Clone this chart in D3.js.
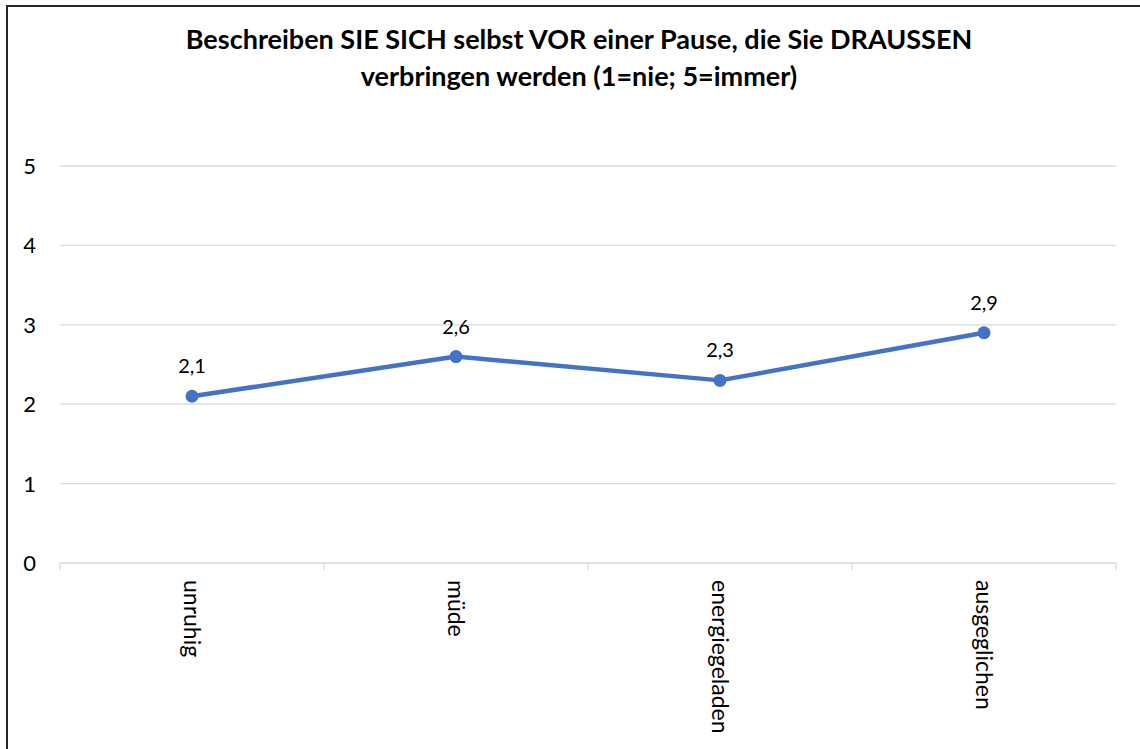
<!DOCTYPE html>
<html>
<head>
<meta charset="utf-8">
<script src="https://cdn.jsdelivr.net/npm/d3@7"></script>
<style>
  html, body { margin: 0; padding: 0; background: #fff; }
  svg { display: block; font-family: Lato, "Open Sans", sans-serif; }
</style>
</head>
<body>
<div id="chart"></div>
<script>
// data
const titleLines = ["Beschreiben SIE SICH selbst VOR einer Pause, die Sie DRAUSSEN", "verbringen werden (1=nie; 5=immer)"];
const categories = ["unruhig", "müde", "energiegeladen", "ausgeglichen"];
const values = [2.1, 2.6, 2.3, 2.9];
const yTicks = [0, 1, 2, 3, 4, 5];

const W = 1140, H = 749;
const svg = d3.select("#chart").append("svg").attr("width", W).attr("height", H);

// outer frame (only left/top visible in the picture)
svg.append("rect")
  .attr("x", 7).attr("y", 6).attr("width", W + 20).attr("height", H + 20)
  .attr("fill", "#fff").attr("stroke", "#262626").attr("stroke-width", 2);

// title
const title = svg.append("text").attr("text-anchor", "middle")
  .attr("font-weight", "bold").attr("font-size", 27).attr("fill", "#000");
titleLines.forEach((t, i) => {
  title.append("tspan").attr("x", 579).attr("y", 49 + i * 37).text(t);
});

const x = d3.scaleBand().domain(categories).range([60, 1116]);
const y = d3.scaleLinear().domain([0, 5]).range([563, 166]);

// gridlines
svg.append("g").selectAll("line").data(yTicks).enter().append("line")
  .attr("x1", 60).attr("x2", 1116)
  .attr("y1", d => y(d)).attr("y2", d => y(d))
  .attr("stroke", "#d9d9d9").attr("stroke-width", 1.3);

// category tick marks
const bounds = categories.map(c => x(c)).concat([x.range()[1]]);
svg.append("g").selectAll("line").data(bounds).enter().append("line")
  .attr("x1", d => d).attr("x2", d => d)
  .attr("y1", y(0)).attr("y2", y(0) + 7)
  .attr("stroke", "#d9d9d9").attr("stroke-width", 1.3);

// y labels
svg.append("g").selectAll("text").data(yTicks).enter().append("text")
  .attr("x", 36).attr("y", d => y(d) + 8).attr("text-anchor", "end")
  .attr("font-size", 22).attr("fill", "#000").text(d => d);

// category labels, rotated
svg.append("g").selectAll("text").data(categories).enter().append("text")
  .attr("transform", d => `translate(${x(d) + x.bandwidth() / 2 - 8}, 580) rotate(90)`)
  .attr("font-size", 23).attr("fill", "#000").text(d => d);

// line
const cx = d => x(d) + x.bandwidth() / 2;
const pts = categories.map((c, i) => [cx(c), y(values[i])]);
svg.append("path").datum(pts)
  .attr("d", d3.line())
  .attr("fill", "none").attr("stroke", "#4472c4").attr("stroke-width", 4.5)
  .attr("stroke-linejoin", "round");

svg.append("g").selectAll("circle").data(pts).enter().append("circle")
  .attr("cx", d => d[0]).attr("cy", d => d[1]).attr("r", 6.5)
  .attr("fill", "#4472c4");

// data labels
svg.append("g").selectAll("text").data(values).enter().append("text")
  .attr("x", (d, i) => pts[i][0]).attr("y", (d, i) => pts[i][1] - 23)
  .attr("text-anchor", "middle").attr("font-size", 20).attr("fill", "#000")
  .text(d => String(d).replace(".", ","));
</script>
</body>
</html>
